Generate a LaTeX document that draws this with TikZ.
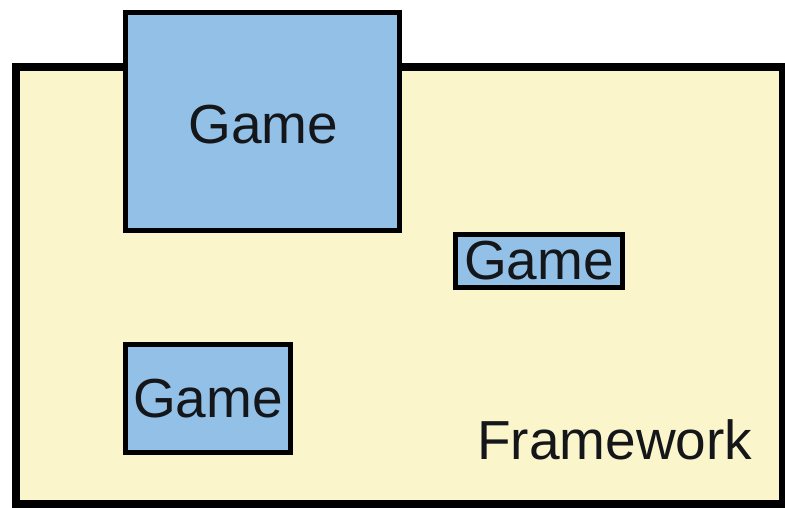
\documentclass[tikz,border=0pt]{standalone}
\usepackage{fontspec}
\setmainfont{Liberation Sans}
\definecolor{fwyellow}{RGB}{250,245,202}
\definecolor{gameblue}{RGB}{146,192,230}
\definecolor{txt}{RGB}{20,22,26}
\begin{document}
\begin{tikzpicture}[x=1pt,y=1pt,
  lbl/.style={font=\fontsize{55}{60}\selectfont, text=txt},
  gamebox/.style={draw=black, line width=5pt, fill=gameblue, inner sep=0pt, lbl},
  fwbox/.style={draw=black, line width=8pt, fill=fwyellow}]
\useasboundingbox[fill=white] (0,0) rectangle (785,508);
\node[fwbox, inner sep=0pt, minimum width=767.5pt, minimum height=436.5pt] (fw) at (399.25,222.25) {};
\node[gamebox, minimum width=274pt, minimum height=218pt] (g1) at (262.5,386.5) {};
\node[lbl] (g1t) at (263.5,383) {Game};
\node[gamebox, minimum width=167pt, minimum height=53pt] (g2) at (539,247) {Game};
\node[gamebox, minimum width=165pt, minimum height=108pt] (g3) at (208,109.5) {Game};
\node[lbl, anchor=base west, inner sep=0pt] (fwt) at (477,48) {Framework};
\end{tikzpicture}
\end{document}
